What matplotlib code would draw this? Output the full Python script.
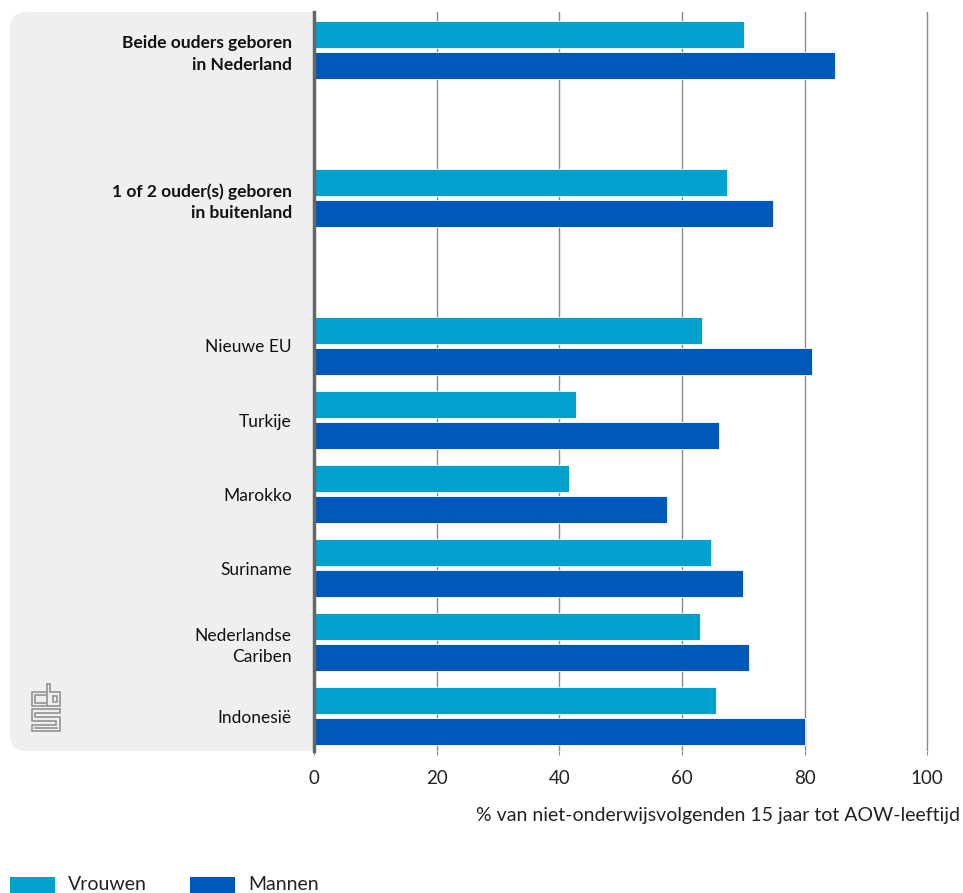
import matplotlib
matplotlib.use("Agg")
import matplotlib.pyplot as plt
from matplotlib.patches import FancyBboxPatch, Rectangle
from matplotlib.lines import Line2D
import numpy as np

plt.rcParams['font.family'] = ['Lato', 'DejaVu Sans']

categories = ["Beide ouders geboren\nin Nederland", "1 of 2 ouder(s) geboren\nin buitenland",
              "Nieuwe EU", "Turkije", "Marokko", "Suriname", "Nederlandse\nCariben", "Indonesië"]
bold = [True, True, False, False, False, False, False, False]
slots = [0, 2, 4, 5, 6, 7, 8, 9]
vrouwen = [70.1, 67.4, 63.3, 42.8, 41.6, 64.7, 63.0, 65.5]
mannen = [85.0, 74.8, 81.3, 66.1, 57.5, 69.9, 70.9, 80.1]
xticks = [0, 20, 40, 60, 80, 100]

c_v = '#00a1cd'
c_m = '#0058b8'

W, H = 963, 893
fig = plt.figure(figsize=(W / 100, H / 100), dpi=100)

# grey label panel
panel = FancyBboxPatch((10 / W, 1 - 751 / H), 330 / W, 739 / H,
                       boxstyle="round,pad=0,rounding_size=0.018",
                       transform=fig.transFigure, facecolor='#efefef',
                       edgecolor='none', zorder=-1)
fig.patches.append(panel)

ax = fig.add_axes([314 / W, 1 - 751 / H, (929 - 314) / W, (751 - 12) / H])
ax.set_facecolor('white')

y = np.array(slots, dtype=float)
h = 0.37
ax.barh(y - 0.21, vrouwen, height=h, color=c_v, edgecolor='white', linewidth=0.6, zorder=3)
ax.barh(y + 0.21, mannen, height=h, color=c_m, edgecolor='white', linewidth=0.6, zorder=3)

ax.set_xlim(0, 100.3)
ax.set_ylim(9.47, -0.51)
ax.set_xticks(xticks)
ax.set_xticklabels([str(t) for t in xticks], fontsize=13.5)
ax.xaxis.grid(True, color='#8a8a8a', linewidth=1, zorder=0)
ax.tick_params(axis='x', length=3, color='#8a8a8a', pad=11, labelcolor='#222222')

ax.set_yticks(y)
ax.set_yticklabels(categories, fontsize=12.5, linespacing=1.45)
for lab, b in zip(ax.get_yticklabels(), bold):
    if b:
        lab.set_fontweight('bold')
ax.tick_params(axis='y', length=0, pad=16, labelcolor='#111111')

for s in ['top', 'right', 'bottom']:
    ax.spines[s].set_visible(False)
ax.spines['left'].set_color('#666666')
ax.spines['left'].set_linewidth(2.5)
ax.spines['left'].set_zorder(4)

fig.text(960 / W, 1 - 815 / H, "% van niet-onderwijsvolgenden 15 jaar tot AOW-leeftijd",
         ha='right', va='center', fontsize=14, color='#222222')

# legend at bottom, partly cut off like the reference
for x0, col, lab in [(10, c_v, "Vrouwen"), (190, c_m, "Mannen")]:
    fig.patches.append(Rectangle((x0 / W, 0), 45 / W, 16 / H, transform=fig.transFigure,
                                 facecolor=col, edgecolor='none'))
    fig.text((x0 + 58) / W, 1 - 885 / H, lab, ha='left', va='center', fontsize=14, color='#222222')

# cbs logo (approximate)
def pline(pts):
    xs = [p[0] / W for p in pts]
    ys = [1 - p[1] / H for p in pts]
    fig.add_artist(Line2D(xs, ys, color='#9a9a9a', linewidth=1.3, transform=fig.transFigure))

# c
pline([(46, 692), (32, 692), (32, 706), (46, 706)])
pline([(46, 695), (35, 695), (35, 703), (46, 703)])
# b
pline([(47, 684), (47, 706), (60, 706), (60, 692), (50, 692)])
pline([(50, 684), (50, 692)])
pline([(47, 684), (50, 684)])
pline([(53, 696), (57, 696), (57, 702), (53, 702), (53, 696)])
# s
pline([(60, 709), (32, 709), (32, 721), (56, 721), (56, 725), (32, 725), (32, 731), (60, 731),
       (60, 717), (35, 717), (35, 713), (60, 713), (60, 709)])
pline([(35, 728), (57, 728)])

fig.savefig("out.png", dpi=100)
